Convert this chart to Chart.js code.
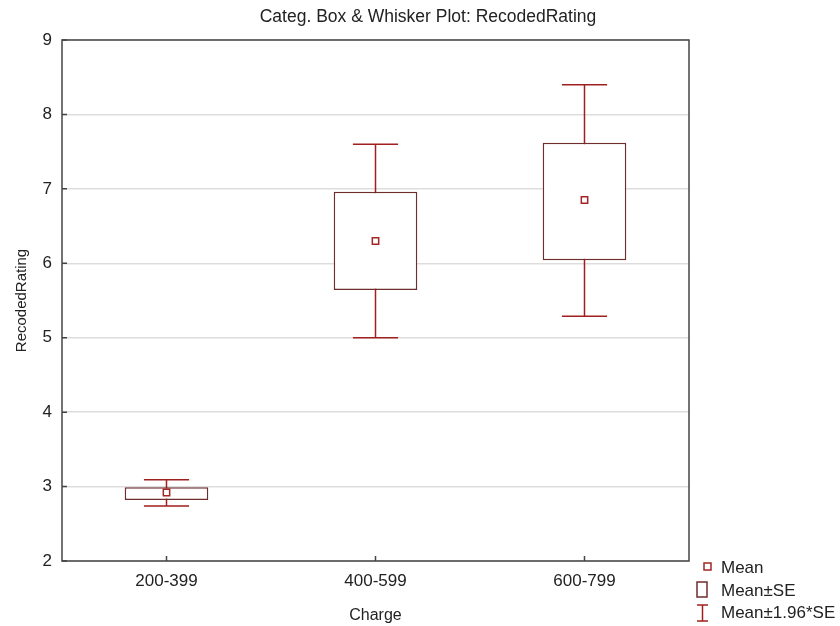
<!DOCTYPE html>
<html>
<head>
<meta charset="utf-8">
<script src="https://cdn.jsdelivr.net/npm/chart.js@4/dist/chart.umd.min.js"></script>
<style>
  html, body { margin: 0; padding: 0; background: #fff; }
  #wrap { width: 840px; height: 626px; }
</style>
</head>
<body>
<div id="wrap"><canvas id="boxChart" width="840" height="626"></canvas></div>
<script>
// Data
const categories = ['200-399', '400-599', '600-799'];
const means      = [2.92, 6.30, 6.85];
const seLow      = [2.82, 5.64, 6.04];   // Mean - SE
const seHigh     = [2.99, 6.96, 7.62];   // Mean + SE
const ciLow      = [2.74, 5.00, 5.29];   // Mean - 1.96*SE
const ciHigh     = [3.09, 7.60, 8.40];   // Mean + 1.96*SE
const yTicks     = [2, 3, 4, 5, 6, 7, 8, 9];
const chartTitle = 'Categ. Box & Whisker Plot: RecodedRating';

const FONT = 'Liberation Sans, Arial, sans-serif';
const BOX_COLOR = '#6e2e2e';
const WHISKER_COLOR = '#a11f1f';
const MEAN_COLOR = '#a52424';

// whiskers behind the boxes, frame + small ticks + title + legend on top
const boxExtras = {
    id: 'boxExtras',
    beforeDatasetsDraw(chart) {
        const { ctx, scales: { x, y } } = chart;
        const meta = chart.getDatasetMeta(0);
        ctx.save();
        ctx.strokeStyle = WHISKER_COLOR;
        ctx.lineWidth = 1.5;
        categories.forEach((c, i) => {
            const cx = x.getPixelForValue(i);
            const half = meta.data[i].width * 0.27;
            const yHi = y.getPixelForValue(ciHigh[i]);
            const yLo = y.getPixelForValue(ciLow[i]);
            ctx.beginPath();
            ctx.moveTo(cx, yHi); ctx.lineTo(cx, yLo);
            ctx.moveTo(cx - half, yHi); ctx.lineTo(cx + half, yHi);
            ctx.moveTo(cx - half, yLo); ctx.lineTo(cx + half, yLo);
            ctx.stroke();
        });
        ctx.restore();
    },
    afterDraw(chart) {
        const { ctx, chartArea: a, scales: { x, y } } = chart;
        ctx.save();
        // frame
        ctx.strokeStyle = '#444';
        ctx.lineWidth = 1.5;
        ctx.strokeRect(a.left, a.top, a.right - a.left, a.bottom - a.top);
        // small inside ticks
        ctx.beginPath();
        yTicks.forEach(v => {
            const py = y.getPixelForValue(v);
            ctx.moveTo(a.left, py); ctx.lineTo(a.left + 5, py);
        });
        categories.forEach((c, i) => {
            const px = x.getPixelForValue(i);
            ctx.moveTo(px, a.bottom); ctx.lineTo(px, a.bottom - 5);
        });
        ctx.stroke();

        // title, centred on the whole picture
        ctx.fillStyle = '#222';
        ctx.textBaseline = 'middle';
        ctx.textAlign = 'center';
        ctx.font = '17.5px ' + FONT;
        ctx.fillText(chartTitle, 428, 17);

        // legend (bottom right)
        ctx.textAlign = 'left';
        ctx.font = '17px ' + FONT;
        ctx.fillText('Mean', 721, 568);
        ctx.fillText('Mean\u00b1SE', 721, 591);
        ctx.fillText('Mean\u00b11.96*SE', 721, 613);
        ctx.lineWidth = 1.5;
        ctx.strokeStyle = MEAN_COLOR;
        ctx.strokeRect(704, 563, 7, 7);
        ctx.strokeStyle = BOX_COLOR;
        ctx.strokeRect(697, 582, 10, 15);
        ctx.strokeStyle = WHISKER_COLOR;
        ctx.beginPath();
        ctx.moveTo(697, 605); ctx.lineTo(708, 605);
        ctx.moveTo(702.5, 605); ctx.lineTo(702.5, 621);
        ctx.moveTo(697, 621); ctx.lineTo(708, 621);
        ctx.stroke();
        ctx.restore();
    }
};

const ctx = document.getElementById('boxChart').getContext('2d');
const boxChart = new Chart(ctx, {
    type: 'bar',
    data: {
        labels: categories,
        datasets: [{
            label: 'Mean\u00b1SE',
            data: categories.map((c, i) => [seLow[i], seHigh[i]]),
            backgroundColor: '#ffffff',
            borderColor: BOX_COLOR,
            borderWidth: 1.5,
            borderSkipped: false,
            barPercentage: 0.4,
            categoryPercentage: 1.0,
            order: 2
        }, {
            type: 'line',
            label: 'Mean',
            data: means,
            showLine: false,
            pointStyle: 'rect',
            pointRadius: 4.5,
            pointBackgroundColor: '#ffffff',
            pointBorderColor: MEAN_COLOR,
            pointBorderWidth: 1.5,
            order: 1
        }]
    },
    options: {
        responsive: false,
        animation: false,
        layout: { padding: { top: 40, right: 151, left: 0, bottom: 0 } },
        plugins: {
            legend: { display: false },
            tooltip: { enabled: false },
            title: { display: false }
        },
        scales: {
            x: {
                grid: { display: false, drawTicks: false },
                border: { display: false },
                ticks: { color: '#222', font: { family: FONT, size: 17 }, padding: 10 },
                title: {
                    display: true, text: 'Charge', color: '#222',
                    font: { family: FONT, size: 16 }, padding: { top: 0, bottom: 1 }
                },
                afterFit(scale) { scale.height = 65; }
            },
            y: {
                min: 2, max: 9,
                afterBuildTicks(scale) { scale.ticks = yTicks.map(v => ({ value: v })); },
                grid: { color: '#dddddd', lineWidth: 1.5, drawTicks: false },
                border: { display: false },
                ticks: { color: '#222', font: { family: FONT, size: 17 }, padding: 10 },
                title: {
                    display: true, text: 'RecodedRating', color: '#222',
                    font: { family: FONT, size: 15 }, padding: { top: 13, bottom: 0 }
                },
                afterFit(scale) { scale.width = 62; }
            }
        }
    },
    plugins: [boxExtras]
});
</script>
</body>
</html>
